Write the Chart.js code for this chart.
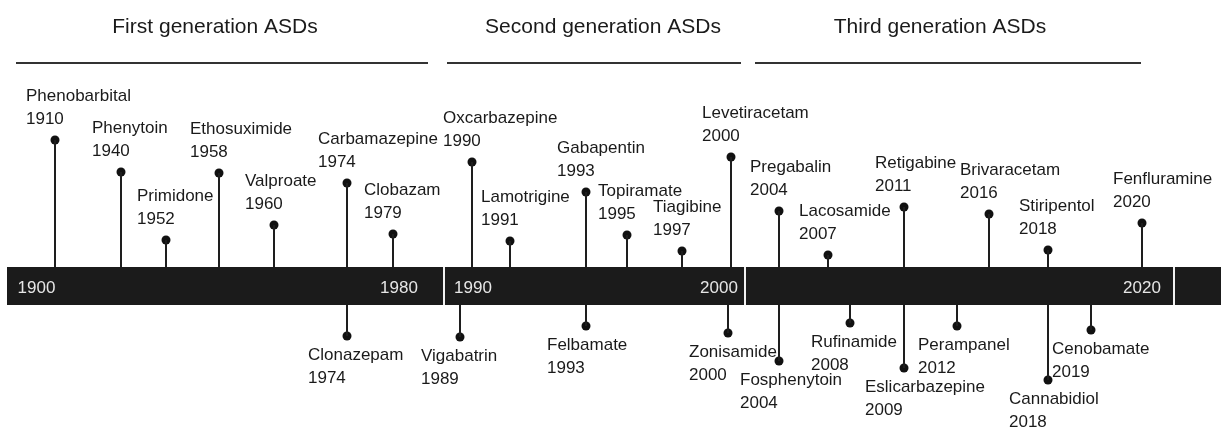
<!DOCTYPE html>
<html>
<head>
<meta charset="utf-8">
<script src="https://cdn.jsdelivr.net/npm/chart.js@4.4.1/dist/chart.umd.min.js"></script>
<style>
  html, body { margin:0; padding:0; background:#fff; }
  #wrap { width:1221px; height:428px; }
</style>
</head>
<body>
<div id="wrap"><canvas id="timeline" width="1221" height="428"></canvas></div>
<script>
// ASD approval timeline - stylised, not to scale
// x = position along the track (track units), y = stem height (+ above band, - below)
const drugs = ['Phenobarbital','Phenytoin','Primidone','Ethosuximide','Valproate','Carbamazepine','Clobazam',
  'Oxcarbazepine','Lamotrigine','Gabapentin','Topiramate','Tiagibine','Levetiracetam',
  'Pregabalin','Lacosamide','Retigabine','Brivaracetam','Stiripentol','Fenfluramine',
  'Clonazepam','Vigabatrin','Felbamate','Zonisamide','Fosphenytoin','Rufinamide',
  'Eslicarbazepine','Perampanel','Cannabidiol','Cenobamate'];
const years = [1910,1940,1952,1958,1960,1974,1979,
  1990,1991,1993,1995,1997,2000,
  2004,2007,2011,2016,2018,2020,
  1974,1989,1993,2000,2004,2008,
  2009,2012,2018,2019];
const trackPos = [5.5,12.1,16.6,21.9,27.4,34.7,39.3,
  47.2,51.0,58.6,62.7,68.2,73.1,
  77.9,82.8,90.4,98.9,104.8,114.2,
  34.7,46.0,58.6,72.8,77.9,85.0,
  90.4,95.7,104.8,109.1];
const stemHeight = [14.6,11.4,4.6,11.3,6.1,10.3,5.2,
  12.4,4.5,9.4,5.1,3.5,12.9,
  7.5,3.1,7.9,7.2,3.6,6.3,
  -5.0,-5.1,-4.0,-4.7,-7.5,-3.7,
  -8.2,-4.0,-9.4,-4.4];

const tickYears = ['1900','1980','1990','2000','2020'];
const tickPos = [3.65,39.9,47.3,71.9,114.2];
const segmentBreaks = [44.4,74.5,117.4];
const trackStart = 0.7, trackEnd = 122.1;

const generations = ['First generation ASDs','Second generation ASDs','Third generation ASDs'];
const generationCenter = [21.5,60.3,94.0];
const generationSpan = [[1.6,42.8],[44.7,74.1],[75.5,114.1]];

const BAND = 1.9;           // half band height in y units
const FONT = '"Liberation Sans", Arial, Helvetica, sans-serif';

// stems as one broken line: edge -> dot, then a gap
const stemPts = [];
trackPos.forEach((x,i)=>{
  const h = stemHeight[i];
  stemPts.push({x, y: h>0 ? BAND : -BAND}, {x, y: h}, {x, y: null});
});
const dotPts = trackPos.map((x,i)=>({x, y: stemHeight[i]}));

const timelinePlugin = {
  id:'timeline',
  beforeDatasetsDraw(chart){
    const {ctx, scales:{x, y}} = chart;
    ctx.save();
    // dark band
    const top = y.getPixelForValue(BAND), bot = y.getPixelForValue(-BAND);
    ctx.fillStyle = '#1b1b1b';
    ctx.fillRect(x.getPixelForValue(trackStart), top, x.getPixelForValue(trackEnd)-x.getPixelForValue(trackStart), bot-top);
    ctx.fillStyle = '#f2f2f2';
    segmentBreaks.forEach(b=>{
      ctx.fillRect(Math.round(x.getPixelForValue(b))-1, top, 2, bot-top);
    });
    // year ticks inside the band
    ctx.fillStyle = '#e6e6e6';
    ctx.font = '17px ' + FONT;
    ctx.textAlign = 'center';
    ctx.textBaseline = 'alphabetic';
    tickYears.forEach((t,i)=>{
      ctx.fillText(t, x.getPixelForValue(tickPos[i]), y.getPixelForValue(0)+7);
    });
    // generation headers
    ctx.fillStyle = '#1a1a1a';
    ctx.font = '21px ' + FONT;
    ctx.textBaseline = 'middle';
    generations.forEach((g,i)=>{
      ctx.fillText(g, x.getPixelForValue(generationCenter[i]), y.getPixelForValue(25.9));
    });
    ctx.strokeStyle = '#333';
    ctx.lineWidth = 2;
    const ly = Math.round(y.getPixelForValue(22.3));
    generationSpan.forEach(([a,b])=>{
      ctx.beginPath();
      ctx.moveTo(x.getPixelForValue(a), ly);
      ctx.lineTo(x.getPixelForValue(b), ly);
      ctx.stroke();
    });
    ctx.restore();
  },
  afterDatasetsDraw(chart){
    const {ctx, scales:{x, y}} = chart;
    ctx.save();
    ctx.fillStyle = '#1a1a1a';
    ctx.font = '17px ' + FONT;
    ctx.textAlign = 'left';
    ctx.textBaseline = 'alphabetic';
    drugs.forEach((name,i)=>{
      const px = x.getPixelForValue(trackPos[i]);
      const py = y.getPixelForValue(stemHeight[i]);
      if(stemHeight[i] > 0){
        const lx = px - 29;
        ctx.fillText(String(years[i]), lx, py - 16);
        ctx.fillText(name, lx, py - 39);
      } else {
        const lx = px - 39;
        ctx.fillText(name, lx, py + 24);
        ctx.fillText(String(years[i]), lx, py + 47);
      }
    });
    ctx.restore();
  }
};

new Chart(document.getElementById('timeline'), {
  type:'scatter',
  data:{
    datasets:[
      { type:'line', label:'stems', data:stemPts, showLine:true, spanGaps:false,
        borderColor:'#1e1e1e', borderWidth:2, pointRadius:0, fill:false },
      { label:'approvals', data:dotPts, pointRadius:4.5, pointHoverRadius:4.5,
        backgroundColor:'#111', borderWidth:0 }
    ]
  },
  options:{
    responsive:false,
    animation:false,
    devicePixelRatio:1,
    layout:{ padding:0, autoPadding:false },
    scales:{
      x:{ type:'linear', min:0, max:122.1, display:false },
      y:{ type:'linear', min:-14.2, max:28.6, display:false }
    },
    plugins:{ legend:{ display:false }, tooltip:{ enabled:false } },
    events:[]
  },
  plugins:[timelinePlugin]
});
</script>
</body>
</html>
